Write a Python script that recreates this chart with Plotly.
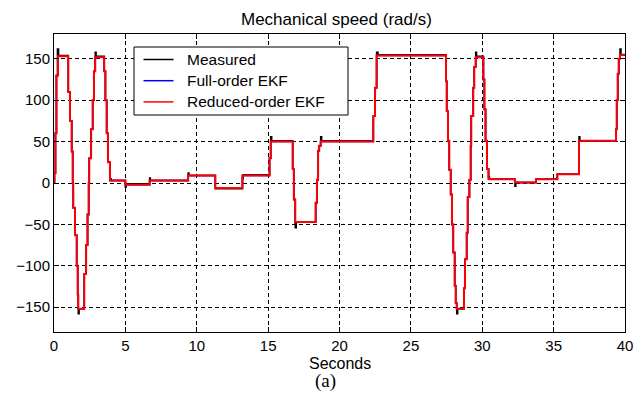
import plotly.graph_objects as go

# ---- data ----
t_est = [0.0, 0.03, 0.1, 0.17, 0.28, 1.0, 1.12, 1.24, 1.31, 1.35, 1.47, 1.59, 1.66, 1.70,
         2.12, 2.25, 2.35, 2.43, 2.47, 2.6, 2.71, 2.8, 2.89,
         3.52, 3.6, 3.69, 3.78, 3.92,
         5.0, 6.7, 9.4, 11.3, 13.2, 15.1, 15.18,
         16.72, 16.8, 16.9, 18.33, 18.42, 18.5, 18.58, 18.68,
         22.37, 22.49, 22.6,
         27.46, 27.51, 27.6, 27.69, 27.79, 27.88, 27.97, 28.07, 28.14, 28.21,
         28.72, 28.79, 28.91, 28.98, 29.1, 29.19, 29.23, 29.37, 29.44, 29.54,
         30.08, 30.15, 30.23, 30.33, 30.44, 30.5,
         32.29, 33.77, 35.26, 36.78, 39.37, 39.42, 39.49, 39.56, 39.65, 40.0]
v_reduced = [0, 12, 60, 130, 153, 110, 75, 38, 0, -30, -63, -100, -135, -152,
             -110, -75, -38, 0, 30, 65, 100, 135, 152,
             135, 100, 60, 25, 3,
             -2, 3, 9, -6, 9, 30, 50,
             17, -20, -47, -24, 4, 39, 45, 50,
             81, 115, 154,
             123, 87, 51, 16, -14, -50, -84, -124, -145, -152,
             -127, -92, -60, -17, 4, 45, 81, 115, 140, 152,
             125, 89, 51, 17, 5, 4.5,
             0.5, 4.5, 10.5, 51, 65, 100, 132, 150, 155, 155]
v_full = [0, 12, 60, 130, 153, 110, 75, 38, 0, -30, -63, -100, -135, -152,
          -110, -75, -38, 0, 30, 65, 100, 135, 152,
          135, 100, 60, 25, 3,
          -2, 3, 9, -6, 9, 30, 50,
          17, -20, -47, -24, 4, 39, 45, 50,
          81, 115, 154,
          123, 87, 51, 16, -14, -50, -84, -124, -145, -152,
          -127, -92, -60, -17, 4, 45, 81, 115, 140, 152,
          125, 89, 51, 17, 5, 4.5,
          0.5, 4.5, 10.5, 51, 65, 100, 132, 150, 155, 155]

t_meas = [0.0, 0.03, 0.1, 0.17, 0.24, 0.32, 1.0, 1.12, 1.24, 1.31, 1.35, 1.47, 1.59, 1.66,
          1.70, 1.76, 2.12, 2.25, 2.35, 2.43, 2.47, 2.6, 2.71, 2.8, 2.89, 2.95,
          3.52, 3.6, 3.69, 3.78, 3.92, 4.0,
          5.0, 5.05, 6.7, 6.75, 9.4, 9.45, 11.3, 13.2, 13.25, 15.1, 15.18, 15.25,
          16.72, 16.8, 16.9, 16.97, 18.33, 18.42, 18.5, 18.58, 18.68, 18.75,
          22.37, 22.49, 22.6, 22.7,
          27.46, 27.51, 27.6, 27.69, 27.79, 27.88, 27.97, 28.07, 28.14, 28.21, 28.28,
          28.72, 28.79, 28.91, 28.98, 29.1, 29.19, 29.23, 29.37, 29.44, 29.54, 29.6,
          30.08, 30.15, 30.23, 30.33, 30.44, 30.5,
          32.29, 32.35, 33.77, 35.26, 36.78, 36.84, 39.37, 39.42, 39.49, 39.56, 39.65, 39.72, 40.0]
v_meas = [0, 12, 60, 130, 162, 154, 110, 75, 38, 0, -30, -63, -100, -135,
          -158, -152, -110, -75, -38, 0, 30, 65, 100, 135, 158, 153,
          135, 100, 60, 25, 5, 3,
          -5, -1, 6, 3, 12, 9, -7, 5, 10, 30, 56, 51,
          17, -20, -54, -47, -24, 4, 39, 45, 56, 51,
          81, 115, 158, 155,
          123, 87, 51, 16, -14, -50, -84, -124, -145, -158, -152,
          -127, -92, -60, -17, 4, 45, 81, 115, 140, 158, 153,
          125, 89, 51, 17, 8, 4.5,
          -4, 0.5, 4.5, 10.5, 56, 51, 65, 100, 132, 150, 162, 155, 155]

x_ticks = [0, 5, 10, 15, 20, 25, 30, 35, 40]
y_ticks = [-150, -100, -50, 0, 50, 100, 150]
series_names = ["Measured", "Full-order EKF", "Reduced-order EKF"]
series_colors = ["black", "blue", "red"]

SANS = "Liberation Sans, Arial, Helvetica"
W, H = 643, 394
L, R, T, B = 54, 18, 34, 62
PW, PH = W - L - R, H - T - B


def px_x(px):
    return (px - L) / PW


def px_y(py):
    return (H - B - py) / PH


fig = go.Figure()
fig.add_trace(go.Scatter(x=t_meas, y=v_meas, mode="lines", name=series_names[0],
                         showlegend=False,
                         line=dict(color=series_colors[0], width=1.5, shape="hv")))
fig.add_trace(go.Scatter(x=t_est, y=v_full, mode="lines", name=series_names[1],
                         showlegend=False,
                         line=dict(color=series_colors[1], width=1.5, shape="hv")))
fig.add_trace(go.Scatter(x=t_est, y=v_reduced, mode="lines", name=series_names[2],
                         showlegend=False,
                         line=dict(color=series_colors[2], width=2, shape="hv")))

axis_common = dict(showline=True, linecolor="black", linewidth=1, mirror="ticks",
                   ticks="inside", ticklen=5, tickcolor="black",
                   showgrid=True, gridcolor="black", gridwidth=1, griddash="4px,3px",
                   zeroline=False, tickfont=dict(family=SANS, size=15, color="black"))

fig.update_xaxes(range=[0, 40], tickvals=x_ticks, **axis_common)
fig.update_yaxes(range=[-180, 180], tickvals=y_ticks, **axis_common)

# legend box (drawn to match the reference's compact MATLAB legend)
shapes = [dict(type="rect", xref="paper", yref="paper",
               x0=px_x(134), x1=px_x(348), y0=px_y(115), y1=px_y(47),
               line=dict(color="black", width=1), fillcolor="white", layer="above")]
annotations = []
for i, (nm, col) in enumerate(zip(series_names, series_colors)):
    yy = px_y(59.5 + i * 21.2)
    shapes.append(dict(type="line", xref="paper", yref="paper",
                       x0=px_x(143.5), x1=px_x(173.5), y0=yy, y1=yy,
                       line=dict(color=col, width=1.5), layer="above"))
    annotations.append(dict(text=nm, xref="paper", yref="paper", x=px_x(185), y=yy,
                            xanchor="left", yanchor="middle", showarrow=False,
                            font=dict(family=SANS, size=15.5, color="black")))

annotations += [
    dict(text="Mechanical speed (rad/s)", xref="paper", yref="paper",
         x=px_x(336.7), y=px_y(20), xanchor="center", yanchor="middle", showarrow=False,
         font=dict(family=SANS, size=17, color="black")),
    dict(text="Seconds", xref="paper", yref="paper",
         x=px_x(339.5), y=px_y(363), xanchor="center", yanchor="middle", showarrow=False,
         font=dict(family=SANS, size=16, color="black")),
    dict(text="(a)", xref="paper", yref="paper",
         x=px_x(325.3), y=px_y(381), xanchor="center", yanchor="middle", showarrow=False,
         font=dict(family="Liberation Serif, Times New Roman, serif", size=19, color="black")),
]

fig.update_layout(
    width=W, height=H,
    margin=dict(l=L, r=R, t=T, b=B, autoexpand=False),
    paper_bgcolor="white", plot_bgcolor="white",
    showlegend=False,
    shapes=shapes,
    annotations=annotations,
)

fig.write_html("out.html", config={"displayModeBar": False},
               post_script="document.body.style.margin='0';document.body.style.overflow='hidden';")
